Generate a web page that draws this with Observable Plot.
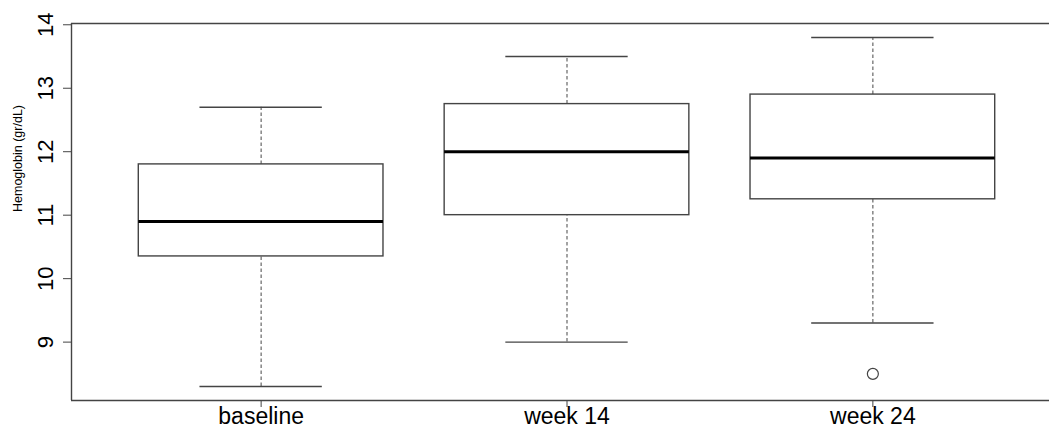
<!DOCTYPE html>
<html>
<head>
<meta charset="utf-8">
<script src="https://cdn.jsdelivr.net/npm/d3@7"></script>
<script src="https://cdn.jsdelivr.net/npm/@observablehq/plot@0.6"></script>
<style>
  html, body { margin: 0; padding: 0; background: #fff; }
  #chart svg { display: block; }
</style>
</head>
<body>
<div id="chart"></div>
<script>
// ---- data ----
const groups = ["baseline", "week 14", "week 24"];
const lowerWhisker = [8.3, 9.0, 9.3];
const q1 = [10.35, 11.0, 11.25];
const median = [10.9, 12.0, 11.9];
const q3 = [11.8, 12.75, 12.9];
const upperWhisker = [12.7, 13.5, 13.8];
const outlierGroup = ["week 24"];
const outlierValue = [8.5];
const yTicks = [9, 10, 11, 12, 13, 14];
const yLabel = "Hemoglobin (gr/dL)";

// ---- derived tables ----
const boxes = groups.map((g, i) => ({
  g, pos: i + 1,
  lo: lowerWhisker[i], q1: q1[i], med: median[i], q3: q3[i], hi: upperWhisker[i]
}));
const outliers = outlierGroup.map((g, i) => ({pos: groups.indexOf(g) + 1, v: outlierValue[i]}));

// R-style 4% axis extension
const xMin = 0.5 - 0.04 * 3, xMax = 3.5 + 0.04 * 3;
const dataMin = d3.min([...lowerWhisker, ...outlierValue]);
const dataMax = d3.max(upperWhisker);
const yr = dataMax - dataMin;
const yMin = dataMin - 0.04 * yr, yMax = dataMax + 0.04 * yr;

const halfBox = 0.4, halfCap = 0.2;
const lineCol = "#444";

const chart = Plot.plot({
  width: 1049,
  height: 429,
  marginLeft: 71,
  marginRight: 0,
  marginTop: 23,
  marginBottom: 29,
  style: {fontFamily: "'Liberation Sans', Arial, sans-serif", color: "#000", background: "#fff"},
  x: {domain: [xMin, xMax], range: [71, 1062]},
  y: {domain: [yMin, yMax]},
  marks: [
    // whiskers (dashed)
    Plot.ruleX(boxes, {x: "pos", y1: "q3", y2: "hi", stroke: "#666", strokeWidth: 1.2, strokeDasharray: "3.5,2.5"}),
    Plot.ruleX(boxes, {x: "pos", y1: "lo", y2: "q1", stroke: "#666", strokeWidth: 1.2, strokeDasharray: "3.5,2.5"}),
    // caps
    Plot.ruleY(boxes, {y: "hi", x1: d => d.pos - halfCap, x2: d => d.pos + halfCap, stroke: lineCol, strokeWidth: 1.4}),
    Plot.ruleY(boxes, {y: "lo", x1: d => d.pos - halfCap, x2: d => d.pos + halfCap, stroke: lineCol, strokeWidth: 1.4}),
    // boxes
    Plot.rect(boxes, {x1: d => d.pos - halfBox, x2: d => d.pos + halfBox, y1: "q1", y2: "q3", fill: "white", stroke: lineCol, strokeWidth: 1.4}),
    // medians
    Plot.ruleY(boxes, {y: "med", x1: d => d.pos - halfBox, x2: d => d.pos + halfBox, stroke: "#000", strokeWidth: 3}),
    // outliers
    Plot.dot(outliers, {x: "pos", y: "v", r: 5.5, stroke: lineCol, strokeWidth: 1.2, fill: "none"}),
    // plot box
    Plot.ruleX([xMin], {y1: yMin, y2: yMax, stroke: lineCol, strokeWidth: 1.4}),
    Plot.ruleY([yMin, yMax], {x1: xMin, x2: xMax, stroke: lineCol, strokeWidth: 1.4}),
    // axes
    Plot.axisX({ticks: [1, 2, 3], tickFormat: d => groups[d - 1], tickSize: 7, tickPadding: 0, fontSize: 23, stroke: lineCol, label: null}),
    Plot.axisY({ticks: yTicks, tickFormat: d => String(d), tickSize: 8, tickPadding: 11, tickRotate: -90, fontSize: 22, stroke: lineCol, label: null}),
    Plot.text([yLabel], {frameAnchor: "left", text: d => d, rotate: -90, dx: -53.5, fontSize: 12.5, fill: "#000"})
  ]
});
document.getElementById("chart").appendChild(chart);
</script>
</body>
</html>
